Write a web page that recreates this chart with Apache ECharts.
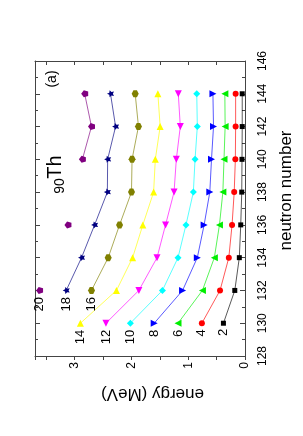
<!DOCTYPE html>
<html>
<head>
<meta charset="utf-8">
<script src="https://cdn.jsdelivr.net/npm/echarts@6/dist/echarts.min.js"></script>
<style>
html,body{margin:0;padding:0;background:#fff;}
#c{width:303px;height:436px;}
</style>
</head>
<body>
<div id="c"></div>
<script>
// ---- data ----
const neutron = [130, 132, 134, 136, 138, 140, 142, 144];
const spins = ['2', '4', '6', '8', '10', '12', '14', '16', '18', '20'];
const e2  = [0.38, 0.18, 0.10, 0.075, 0.057, 0.053, 0.049, 0.049];
const e4  = [0.76, 0.44, 0.285, 0.228, 0.19, 0.17, 0.165, 0.165];
const e6  = [1.18, 0.75, 0.54, 0.45, 0.39, 0.37, 0.35, 0.355];
const e8  = [1.60, 1.10, 0.84, 0.72, 0.62, 0.59, 0.555, 0.565];
const e10 = [2.02, 1.455, 1.18, 1.04, 0.91, 0.88, 0.84, 0.85];
const e12 = [2.45, 1.87, 1.55, 1.40, 1.25, 1.21, 1.14, 1.175];
const e14 = [2.90, 2.265, 1.98, 1.80, 1.61, 1.58, 1.495, 1.535];
const e16 = [null, 2.705, 2.41, 2.21, 2.00, 1.99, 1.877, 1.935];
const e18 = [null, 3.15, 2.88, 2.65, 2.425, 2.42, 2.28, 2.37];
const e20 = [null, 3.62, null, 3.12, null, 2.865, 2.705, 2.825];
const energyTicks = [0, 1, 2, 3];
const neutronTicks = [128, 130, 132, 134, 136, 138, 140, 142, 144, 146];

const energies = [e2, e4, e6, e8, e10, e12, e14, e16, e18, e20];

// ---- styles ----
const FONT = '"Liberation Sans", Arial, sans-serif';
const FRAME = '#444';
const HEX = 'path://M0,-1 L0.866,-0.5 L0.866,0.5 L0,1 L-0.866,0.5 L-0.866,-0.5 Z';
const STAR = 'path://M0,-10 L2.94,-4.05 L9.51,-3.09 L4.76,1.55 L5.88,8.09 L0,5.2 L-5.88,8.09 L-4.76,1.55 L-9.51,-3.09 L-2.94,-4.05 Z';
const PENT = 'path://M0,-1 L0.951,-0.309 L0.588,0.809 L-0.588,0.809 L-0.951,-0.309 Z';
const marks = [
  {color: '#000000', symbol: 'rect', size: 5, rot: 0},
  {color: '#ff0000', symbol: 'circle', size: 6, rot: 0},
  {color: '#00ee00', symbol: 'triangle', size: 7, rot: 90},
  {color: '#0000ff', symbol: 'triangle', size: 7, rot: -90},
  {color: '#00ffff', symbol: 'diamond', size: 7, rot: 0},
  {color: '#ff00ff', symbol: 'triangle', size: 7, rot: 180},
  {color: '#ffff00', symbol: 'triangle', size: 7, rot: 0},
  {color: '#808000', symbol: HEX, size: 7, rot: 90},
  {color: '#000080', symbol: STAR, size: 7, rot: 90},
  {color: '#800080', symbol: PENT, size: 7, rot: 90}
];

const series = energies.map(function (arr, i) {
  const m = marks[i];
  let firstDone = false;
  const data = neutron.map(function (n, j) {
    const v = arr[j];
    if (v == null) return ['-', n];
    if (!firstDone) {
      firstDone = true;
      return {
        value: [v, n],
        label: {
          show: true,
          formatter: spins[i],
          position: 'bottom',
          distance: 3,
          align: 'right',
          verticalAlign: 'middle',
          rotate: 90,
          fontSize: 13,
          fontFamily: FONT,
          color: '#000'
        }
      };
    }
    return [v, n];
  });
  return {
    type: 'line',
    name: spins[i],
    data: data,
    xAxisIndex: 0,
    yAxisIndex: 0,
    symbol: m.symbol,
    symbolSize: m.size,
    symbolRotate: m.rot,
    showSymbol: true,
    connectNulls: false,
    itemStyle: {color: m.color},
    lineStyle: {color: m.color, width: 1, opacity: 0.65},
    emphasis: {disabled: true},
    z: 3
  };
});

const energyBase = {
  type: 'value', min: 0, max: 3.7, interval: 0.5, inverse: true,
  axisLine: {show: true, onZero: false, lineStyle: {color: FRAME, width: 1}},
  splitLine: {show: false}
};
const neutronBase = {
  type: 'value', min: 128, max: 146, interval: 2,
  axisLine: {show: true, onZero: false, lineStyle: {color: FRAME, width: 1}},
  splitLine: {show: false},
  minorTick: {show: true, splitNumber: 2, length: 3, lineStyle: {color: FRAME}}
};

const option = {
  animation: false,
  backgroundColor: '#ffffff',
  grid: {left: 35, right: 51, top: 61, bottom: 80, containLabel: false},
  xAxis: [
    Object.assign({}, energyBase, {
      position: 'bottom',
      name: 'energy (MeV)',
      nameLocation: 'middle',
      nameRotate: 180,
      nameGap: 29,
      nameTextStyle: {fontSize: 17, fontFamily: FONT, color: '#000', padding: [0, 25, 0, 0]},
      axisTick: {show: true, inside: false, length: 4, lineStyle: {color: FRAME}},
      axisLabel: {
        show: true, rotate: 90, margin: 6, fontSize: 12, fontFamily: FONT, color: '#000',
        formatter: function (v) { return energyTicks.indexOf(v) >= 0 ? String(v) : ''; }
      }
    }),
    Object.assign({}, energyBase, {
      position: 'top',
      axisTick: {show: true, inside: true, length: 4, lineStyle: {color: FRAME}},
      axisLabel: {show: false}
    })
  ],
  yAxis: [
    Object.assign({}, neutronBase, {
      position: 'right',
      name: 'neutron number',
      nameLocation: 'middle',
      nameRotate: 90,
      nameGap: 33,
      nameTextStyle: {fontSize: 17, fontFamily: FONT, color: '#000', padding: [0, 0, 0, 36]},
      axisTick: {show: true, inside: true, length: 5, lineStyle: {color: FRAME}},
      axisLabel: {
        show: true, rotate: 90, margin: 12, fontSize: 12, fontFamily: FONT, color: '#000',
        formatter: function (v) { return neutronTicks.indexOf(v) >= 0 ? String(v) : ''; }
      }
    }),
    Object.assign({}, neutronBase, {
      position: 'left',
      axisTick: {show: true, inside: true, length: 5, lineStyle: {color: FRAME}},
      axisLabel: {show: false}
    })
  ],
  graphic: [
    {type: 'text', x: 52, y: 79, rotation: Math.PI / 2, z: 10,
     style: {text: '(a)', fontSize: 14, fontFamily: FONT, fill: '#000', align: 'center', verticalAlign: 'middle'}},
    {type: 'text', x: 55, y: 167, rotation: Math.PI / 2, z: 10,
     style: {text: 'Th', fontSize: 20, fontFamily: FONT, fill: '#000', align: 'center', verticalAlign: 'middle'}},
    {type: 'text', x: 60, y: 186, rotation: Math.PI / 2, z: 10,
     style: {text: '90', fontSize: 14, fontFamily: FONT, fill: '#000', align: 'center', verticalAlign: 'middle'}}
  ],
  series: series
};

const chart = echarts.init(document.getElementById('c'));
chart.setOption(option);
</script>
</body>
</html>
